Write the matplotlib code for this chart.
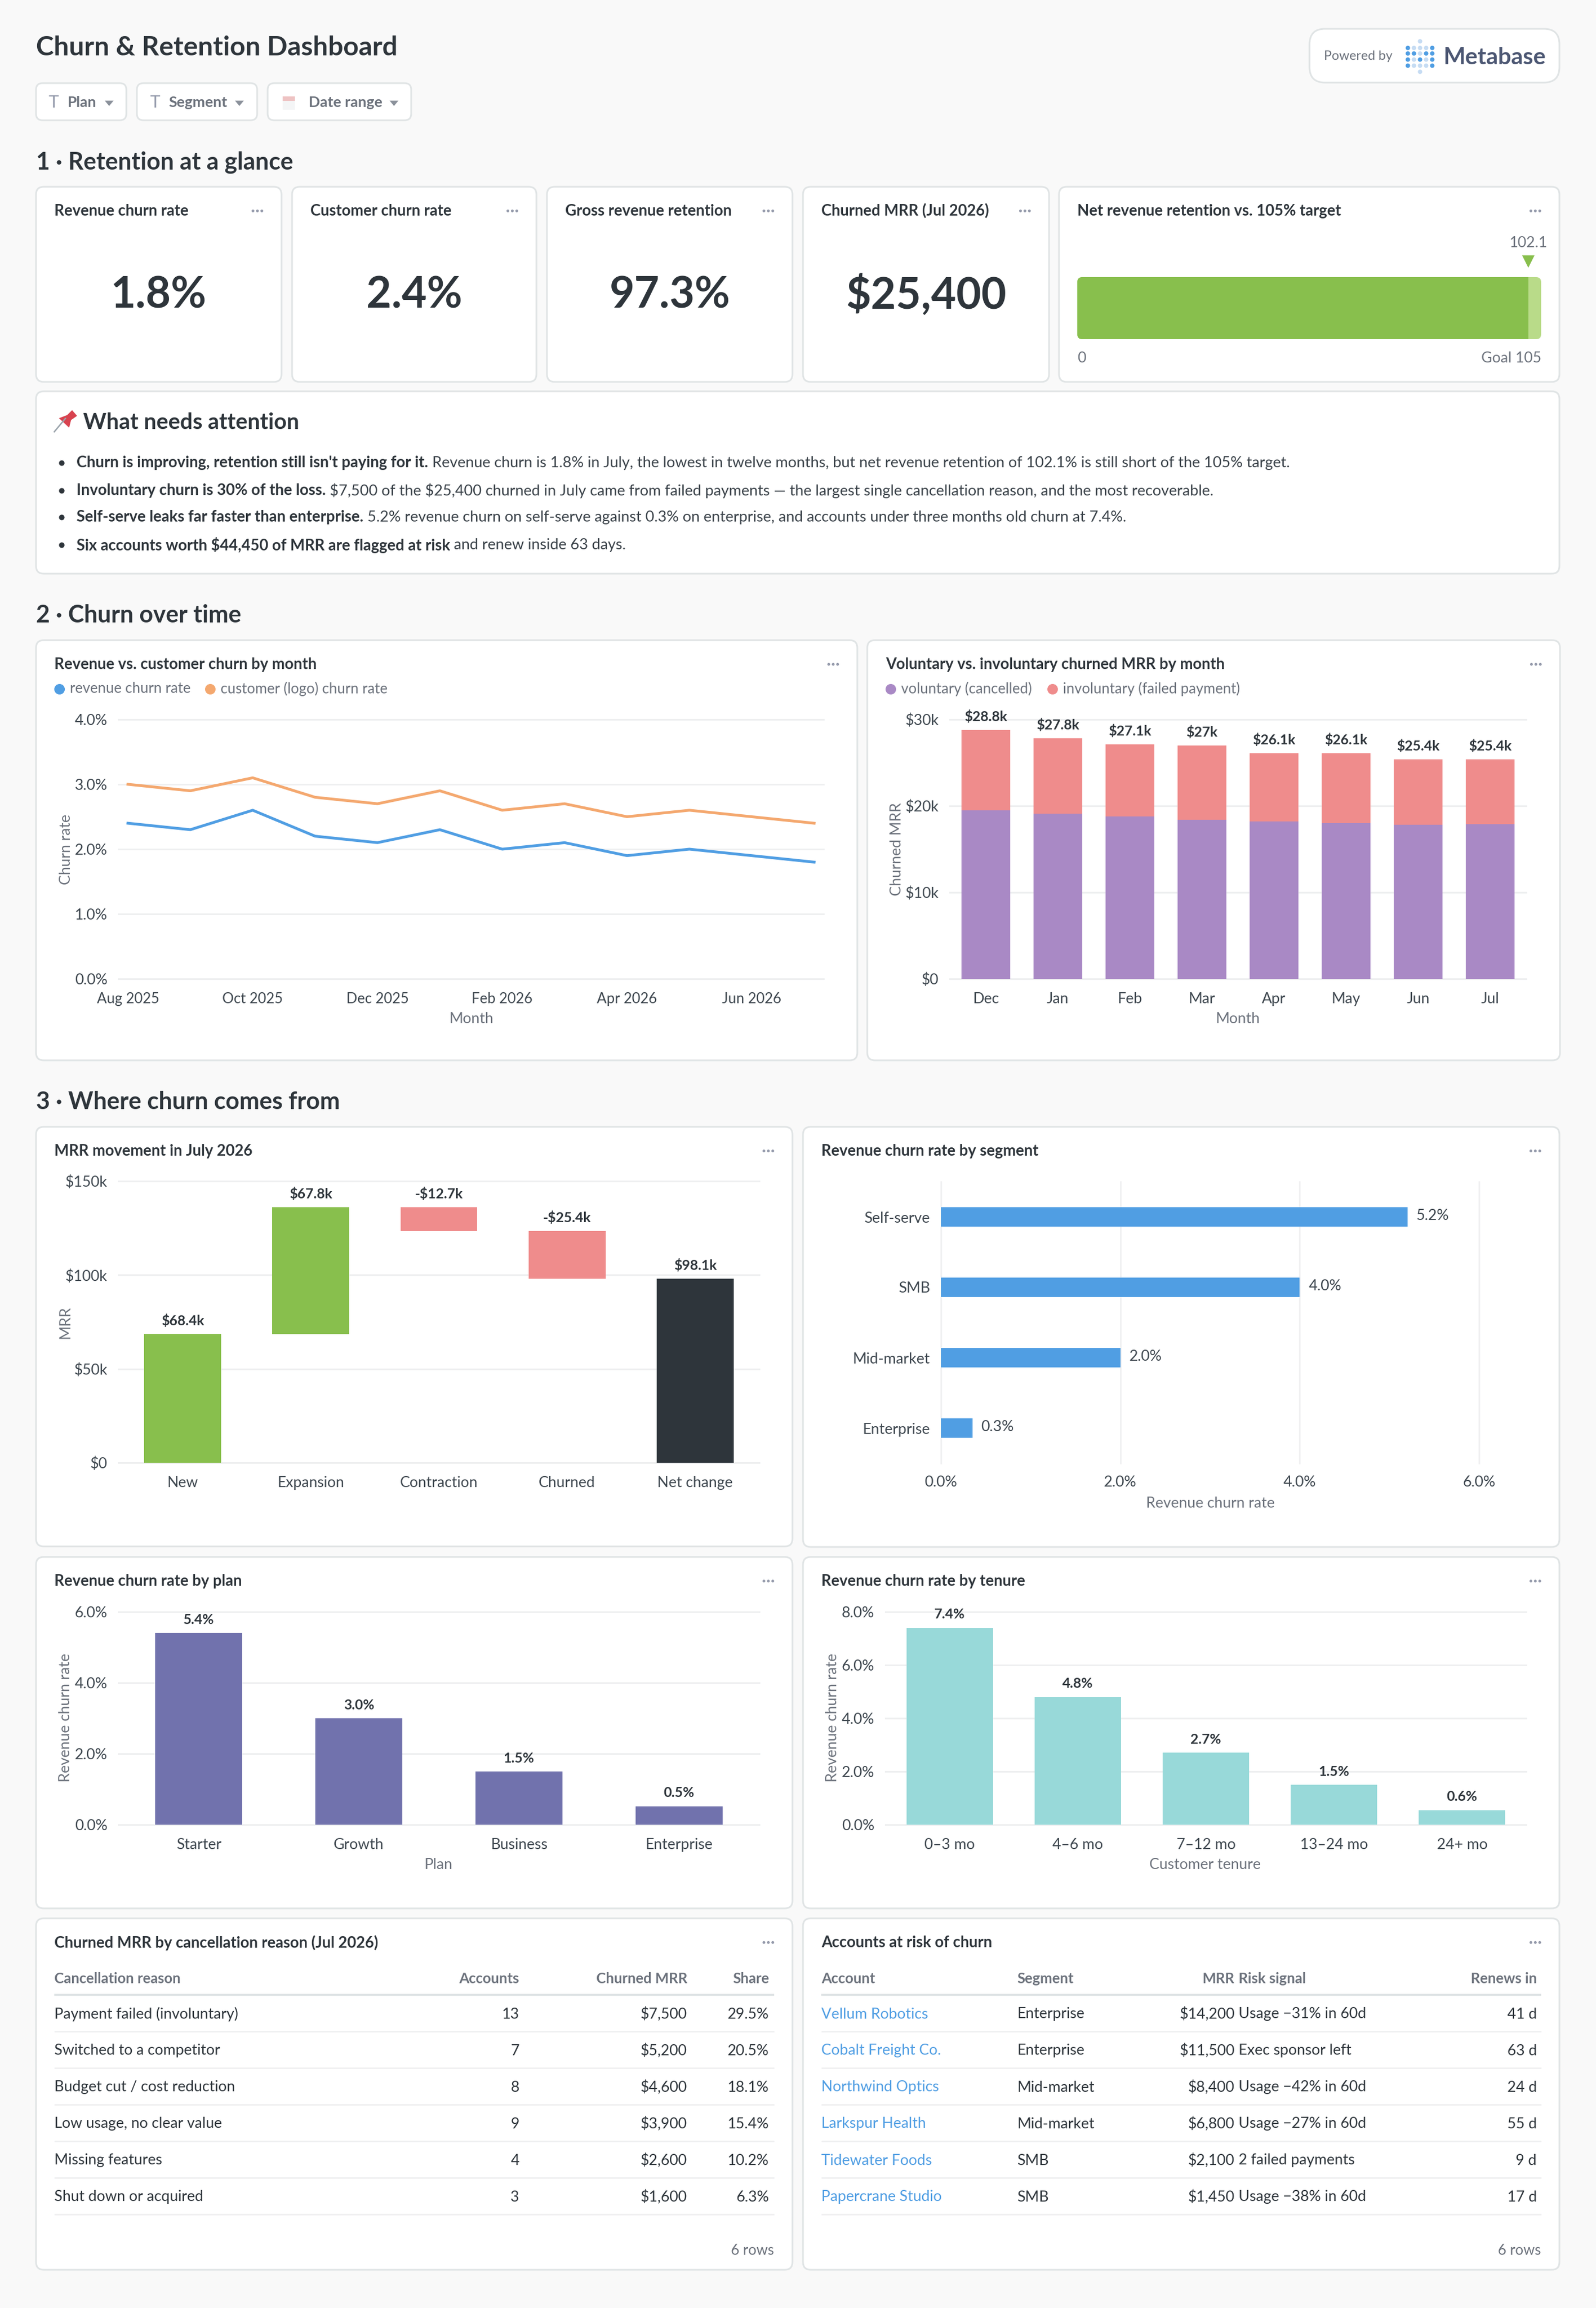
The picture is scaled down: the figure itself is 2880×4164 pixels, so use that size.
# Churn & Retention dashboard, everything laid out in image pixels
import matplotlib
matplotlib.use("Agg")
import matplotlib.pyplot as plt
from matplotlib.patches import FancyBboxPatch, Polygon, Rectangle

W, H = 2880, 4164
DPI = 200

BG = "#f9f9f9"
BORDER = "#e0e4e5"
GRID = "#eeeff0"
DARK = "#2e353b"
TICK = "#3f4850"
GREY = "#6c727c"
DOTS = "#949aab"
BLUE = "#509ee3"
ORANGE = "#f4a86f"
PURPLE = "#a989c5"
PINK = "#ef8c8c"
GREEN = "#88bf4d"
LIGHT_GREEN = "#b9db89"
INDIGO = "#7172ad"
TEAL = "#98d9d9"

kpi_titles = ["Revenue churn rate", "Customer churn rate", "Gross revenue retention", "Churned MRR (Jul 2026)"]
kpi_values = ["1.8%", "2.4%", "97.3%", "$25,400"]

nrr_value = 102.1
nrr_goal = 105

months_long = ["Aug 2025", "Sep 2025", "Oct 2025", "Nov 2025", "Dec 2025", "Jan 2026", "Feb 2026", "Mar 2026",
               "Apr 2026", "May 2026", "Jun 2026", "Jul 2026"]
revenue_churn = [2.4, 2.3, 2.6, 2.2, 2.1, 2.3, 2.0, 2.1, 1.9, 2.0, 1.9, 1.8]
customer_churn = [3.0, 2.9, 3.1, 2.8, 2.7, 2.9, 2.6, 2.7, 2.5, 2.6, 2.5, 2.4]

months_short = ["Dec", "Jan", "Feb", "Mar", "Apr", "May", "Jun", "Jul"]
voluntary = [19.5, 19.1, 18.8, 18.4, 18.2, 18.0, 17.8, 17.9]
involuntary = [9.3, 8.7, 8.3, 8.6, 7.9, 8.1, 7.6, 7.5]
stack_labels = ["$28.8k", "$27.8k", "$27.1k", "$27k", "$26.1k", "$26.1k", "$25.4k", "$25.4k"]

move_names = ["New", "Expansion", "Contraction", "Churned", "Net change"]
move_values = [68.4, 67.8, -12.7, -25.4]
move_net = 98.1
move_labels = ["$68.4k", "$67.8k", "-$12.7k", "-$25.4k", "$98.1k"]

segments = ["Self-serve", "SMB", "Mid-market", "Enterprise"]
segment_churn = [5.2, 4.0, 2.0, 0.35]
segment_labels = ["5.2%", "4.0%", "2.0%", "0.3%"]

plans = ["Starter", "Growth", "Business", "Enterprise"]
plan_churn = [5.4, 3.0, 1.5, 0.52]
plan_labels = ["5.4%", "3.0%", "1.5%", "0.5%"]

tenures = ["0–3 mo", "4–6 mo", "7–12 mo", "13–24 mo", "24+ mo"]
tenure_churn = [7.4, 4.8, 2.7, 1.5, 0.55]
tenure_labels = ["7.4%", "4.8%", "2.7%", "1.5%", "0.6%"]

reason_names = ["Payment failed (involuntary)", "Switched to a competitor", "Budget cut / cost reduction",
                "Low usage, no clear value", "Missing features", "Shut down or acquired"]
reason_accounts = ["13", "7", "8", "9", "4", "3"]
reason_mrr = ["$7,500", "$5,200", "$4,600", "$3,900", "$2,600", "$1,600"]
reason_share = ["29.5%", "20.5%", "18.1%", "15.4%", "10.2%", "6.3%"]

risk_accounts = ["Vellum Robotics", "Cobalt Freight Co.", "Northwind Optics", "Larkspur Health", "Tidewater Foods",
                 "Papercrane Studio"]
risk_segments = ["Enterprise", "Enterprise", "Mid-market", "Mid-market", "SMB", "SMB"]
risk_mrr = ["$14,200", "$11,500", "$8,400", "$6,800", "$2,100", "$1,450"]
risk_signal = ["Usage −31% in 60d", "Exec sponsor left", "Usage −42% in 60d", "Usage −27% in 60d", "2 failed payments",
               "Usage −38% in 60d"]
risk_renews = ["41 d", "63 d", "24 d", "55 d", "9 d", "17 d"]

notes = [
    ("Churn is improving, retention still isn't paying for it.",
     "Revenue churn is 1.8% in July, the lowest in twelve months, but net revenue retention of 102.1% is still short of the 105% target."),
    ("Involuntary churn is 30% of the loss.",
     "$7,500 of the $25,400 churned in July came from failed payments — the largest single cancellation reason, and the most recoverable."),
    ("Self-serve leaks far faster than enterprise.",
     "5.2% revenue churn on self-serve against 0.3% on enterprise, and accounts under three months old churn at 7.4%."),
    ("Six accounts worth $44,450 of MRR are flagged at risk",
     "and renew inside 63 days."),
]

plt.rcParams["font.family"] = ["Lato", "DejaVu Sans"]

fig = plt.figure(figsize=(W / DPI, H / DPI), dpi=DPI, facecolor=BG)
bg = fig.add_axes([0, 0, 1, 1])
bg.set_xlim(0, W)
bg.set_ylim(H, 0)
bg.axis("off")
renderer = fig.canvas.get_renderer()


# image pixels to points
def px(v):
    return v * 72 / DPI


# parse_math off, otherwise two dollar signs in one string turn into math
def put(x, y, s, size=27, color=DARK, weight="normal", ha="left", va="center"):
    return bg.text(x, y, s, fontsize=px(size), color=color, fontweight=weight, ha=ha, va=va, parse_math=False)


def rbox(x0, y0, x1, y1, r=14, face="white", edge=BORDER, lw=3):
    box = FancyBboxPatch((x0 + r, y0 + r), x1 - x0 - 2 * r, y1 - y0 - 2 * r,
                         boxstyle=f"round,pad={r},rounding_size={r}",
                         facecolor=face, edgecolor=edge, linewidth=px(lw))
    bg.add_patch(box)
    return box


def card(x0, y0, x1, y1, title=None):
    rbox(x0, y0, x1, y1)
    if title:
        put(x0 + 33, y0 + 44, title, size=27.8, weight="bold")
        bg.plot([x1 - 52, x1 - 44, x1 - 36], [y0 + 43] * 3, "o", ms=px(5), color=DOTS, mew=0)


def axes_px(x0, y0, x1, y1):
    ax = fig.add_axes([x0 / W, 1 - y1 / H, (x1 - x0) / W, (y1 - y0) / H])
    ax.patch.set_alpha(0)
    for s in ax.spines.values():
        s.set_visible(False)
    ax.tick_params(length=0, labelsize=px(27), labelcolor=TICK, pad=px(24))
    ax.set_axisbelow(True)
    return ax


def ygrid(ax):
    ax.grid(axis="y", color=GRID, lw=px(3))
    for line in ax.get_ygridlines():
        line.set_clip_on(False)


# axis titles are placed by their centre, in image pixels
def x_title(ax, box, s, x, y):
    ax.set_xlabel(s, fontsize=px(27), color=GREY, va="center")
    ax.xaxis.set_label_coords((x - box[0]) / (box[2] - box[0]), (box[3] - y) / (box[3] - box[1]))


def y_title(ax, box, s, x, y):
    ax.set_ylabel(s, fontsize=px(27), color=GREY, va="center")
    ax.yaxis.set_label_coords((x - box[0]) / (box[2] - box[0]), (box[3] - y) / (box[3] - box[1]))


def top_labels(ax, xs, tops, labels):
    for x, top, lab in zip(xs, tops, labels):
        ax.annotate(lab, (x, top), xytext=(0, px(24)), textcoords="offset points", ha="center", va="center",
                    fontsize=px(25), fontweight="bold", color=DARK, annotation_clip=False)


def legend_dot(x, y, color, s):
    bg.plot([x], [y], "o", ms=px(19), color=color, mew=0)
    put(x + 19, y, s, size=26, color=GREY)


# header
put(65, 86, "Churn & Retention Dashboard", size=48.5, weight="bold")

filters = [(65, 228, 97, 122, 197, "Plan"), (247, 464, 280, 304, 432, "Segment"), (483, 742, None, 557, 711, "Date range")]
for x0, x1, icon, tx, caret, lab in filters:
    rbox(x0, 150, x1, 217, r=12)
    put(tx, 185, lab, size=27, color=GREY, weight="bold")
    bg.add_patch(Polygon([(caret - 5, 183), (caret + 5, 183), (caret, 189)], color="#8b919b"))
    if icon:
        put(icon, 185, "T", size=31, color=DOTS, ha="center")
bg.add_patch(Rectangle((510, 174), 22, 24, facecolor="#f4f5f6", edgecolor="none"))
bg.add_patch(Rectangle((510, 174), 22, 8, facecolor="#eec3c3", edgecolor="none"))

# metabase badge
rbox(2363, 52, 2814, 149, r=28)
put(2389, 102, "Powered by", size=23.5, color=GREY)
put(2605, 104, "Metabase", size=42, color="#4c5773", weight="bold")
logo_cols = [2540, 2551, 2562, 2573, 2584]
logo_rows = [86, 96, 107, 118]
logo_dark = [[1, 0, 0, 0, 1], [1, 1, 0, 1, 1], [1, 0, 1, 0, 1], [1, 0, 0, 0, 1]]
for yy, flags in zip(logo_rows, logo_dark):
    for xx, on in zip(logo_cols, flags):
        bg.plot([xx], [yy], "o", ms=px(8), mew=0, color=BLUE if on else "#c6dcf3")
bg.plot([2562, 2562], [74, 129], "o", ms=px(8), mew=0, color="#c6dcf3", ls="none")

# section 1
put(65, 293, "1 · Retention at a glance", size=43.3, weight="bold")
kpi_boxes = [(65, 508), (527, 968), (987, 1430), (1449, 1893)]
for (x0, x1), title, value in zip(kpi_boxes, kpi_titles, kpi_values):
    card(x0, 337, x1, 689, title)
    put((x0 + x1) / 2, 533, value, size=78, weight="bold", ha="center")

card(1911, 337, 2814, 689, "Net revenue retention vs. 105% target")
gauge_box = (1944, 500, 2781, 612)
gauge = axes_px(*gauge_box)
gauge.set_xlim(0, nrr_goal)
gauge.set_ylim(0, 1)
gauge.set_xticks([])
gauge.set_yticks([])
clip = rbox(*gauge_box, r=9, face="none", edge="none", lw=0)
for bar in gauge.barh([0.5], [nrr_goal], height=1, color=LIGHT_GREEN):
    bar.set_clip_path(clip)
for bar in gauge.barh([0.5], [nrr_value], height=1, color=GREEN):
    bar.set_clip_path(clip)
marker_x = gauge_box[0] + (gauge_box[2] - gauge_box[0]) * nrr_value / nrr_goal
bg.add_patch(Polygon([(marker_x - 9, 462), (marker_x + 9, 462), (marker_x, 480)], color=GREEN))
put(marker_x, 438, f"{nrr_value}", size=27, color=GREY, ha="center")
put(1944, 647, "0", size=27, color=GREY)
put(2781, 647, f"Goal {nrr_goal}", size=27, color=GREY, ha="right")

# what needs attention
card(65, 706, 2814, 1035)
bg.plot([98, 118], [779, 755], color="#9aa3ab", lw=px(2.5))
bg.add_patch(Polygon([(109, 755), (124, 769), (127, 757), (137, 750), (130, 742), (122, 750)], color="#d8434f"))
put(150, 763, "What needs attention", size=40, weight="bold")
for y, (strong, rest) in zip([835, 885, 933, 983], notes):
    bg.plot([111], [y], "o", ms=px(10), mew=0, color=DARK)
    t = put(138, y, strong, size=27.9, weight="bold")
    x_end = t.get_window_extent(renderer).x1
    put(x_end + 7, y, rest, size=27.4, color="#3a4249")

# section 2
put(65, 1110, "2 · Churn over time", size=43.3, weight="bold")

card(65, 1155, 1547, 1913, "Revenue vs. customer churn by month")
legend_dot(107, 1243, BLUE, "revenue churn rate")
legend_dot(379, 1243, ORANGE, "customer (logo) churn rate")
box = (214, 1298, 1486, 1766)
ax = axes_px(*box)
ax.plot(range(len(months_long)), revenue_churn, color=BLUE, lw=px(5))
ax.plot(range(len(months_long)), customer_churn, color=ORANGE, lw=px(5))
ax.set_xlim(-0.15, 11.15)
ax.set_ylim(0, 4)
ax.set_yticks([0, 1, 2, 3, 4], ["0.0%", "1.0%", "2.0%", "3.0%", "4.0%"])
ax.set_xticks(range(0, 12, 2), months_long[::2])
ax.tick_params(axis="x", labelsize=px(26))
ax.tick_params(axis="y", pad=px(20))
ygrid(ax)
x_title(ax, box, "Month", 851, 1838)
y_title(ax, box, "Churn rate", 119, 1532)

card(1565, 1155, 2815, 1913, "Voluntary vs. involuntary churned MRR by month")
legend_dot(1607, 1243, PURPLE, "voluntary (cancelled)")
legend_dot(1899, 1243, PINK, "involuntary (failed payment)")
box = (1714, 1298, 2754, 1766)
ax = axes_px(*box)
pos = list(range(len(months_short)))
ax.bar(pos, voluntary, width=0.68, color=PURPLE)
ax.bar(pos, involuntary, width=0.68, bottom=voluntary, color=PINK)
ax.set_xlim(-0.5, 7.5)
ax.set_ylim(0, 30)
ax.set_yticks([0, 10, 20, 30], ["$0", "$10k", "$20k", "$30k"])
ax.set_xticks(pos, months_short)
ax.tick_params(axis="y", pad=px(20))
ygrid(ax)
top_labels(ax, pos, [v + i for v, i in zip(voluntary, involuntary)], stack_labels)
x_title(ax, box, "Month", 2234, 1838)
y_title(ax, box, "Churned MRR", 1619, 1532)

# section 3
put(65, 1988, "3 · Where churn comes from", size=43.3, weight="bold")

card(65, 2033, 1430, 2790, "MRR movement in July 2026")
box = (214, 2131, 1370, 2639)
ax = axes_px(*box)
starts, tops, running = [], [], 0
for v in move_values:
    starts.append(running)
    running += v
    tops.append(max(starts[-1], running))
starts.append(0)
tops.append(move_net)
heights = [abs(v) for v in move_values] + [move_net]
bottoms = [min(s, s + v) for s, v in zip(starts, move_values)] + [0]
move_colors = [GREEN, GREEN, PINK, PINK, DARK]
pos = list(range(len(move_names)))
ax.bar(pos, heights, bottom=bottoms, width=0.6, color=move_colors)
ax.set_xlim(-0.5, 4.5)
ax.set_ylim(0, 150)
ax.set_yticks([0, 50, 100, 150], ["$0", "$50k", "$100k", "$150k"])
ax.set_xticks(pos, move_names)
ax.tick_params(axis="y", pad=px(20))
ygrid(ax)
top_labels(ax, pos, tops, move_labels)
y_title(ax, box, "MRR", 118, 2386)

card(1449, 2033, 2814, 2791, "Revenue churn rate by segment")
box = (1698, 2132, 2669, 2640)
ax = axes_px(*box)
pos = list(range(len(segments)))
ax.barh(pos, segment_churn, height=0.283, color=BLUE)
ax.set_xlim(0, 6)
ax.set_ylim(3.5, -0.5)
ax.set_xticks([0, 2, 4, 6], ["0.0%", "2.0%", "4.0%", "6.0%"])
ax.set_yticks(pos, segments)
ax.tick_params(axis="x", pad=px(22))
ax.tick_params(axis="y", pad=px(20))
ax.grid(axis="x", color=GRID, lw=px(2.5))
for line in ax.get_xgridlines():
    line.set_clip_on(False)
for p, v, lab in zip(pos, segment_churn, segment_labels):
    ax.annotate(lab, (v, p), xytext=(px(16), px(2)), textcoords="offset points", va="center", ha="left",
                fontsize=px(27), color=TICK)
x_title(ax, box, "Revenue churn rate", 2184, 2712)

card(65, 2809, 1430, 3443, "Revenue churn rate by plan")
box = (214, 2908, 1370, 3292)
ax = axes_px(*box)
pos = list(range(len(plans)))
ax.bar(pos, plan_churn, width=0.54, color=INDIGO)
ax.set_xlim(-0.5, 3.5)
ax.set_ylim(0, 6)
ax.set_yticks([0, 2, 4, 6], ["0.0%", "2.0%", "4.0%", "6.0%"])
ax.set_xticks(pos, plans)
ax.tick_params(axis="y", pad=px(20))
ygrid(ax)
top_labels(ax, pos, plan_churn, plan_labels)
x_title(ax, box, "Plan", 791, 3364)
y_title(ax, box, "Revenue churn rate", 119, 3099)

card(1449, 2809, 2814, 3443, "Revenue churn rate by tenure")
box = (1598, 2908, 2754, 3292)
ax = axes_px(*box)
pos = list(range(len(tenures)))
ax.bar(pos, tenure_churn, width=0.675, color=TEAL)
ax.set_xlim(-0.5, 4.5)
ax.set_ylim(0, 8)
ax.set_yticks([0, 2, 4, 6, 8], ["0.0%", "2.0%", "4.0%", "6.0%", "8.0%"])
ax.set_xticks(pos, tenures)
ax.tick_params(axis="y", pad=px(20))
ygrid(ax)
top_labels(ax, pos, tenure_churn, tenure_labels)
x_title(ax, box, "Customer tenure", 2175, 3364)
y_title(ax, box, "Revenue churn rate", 1502, 3099)

# tables
row_y = [3634, 3700, 3766, 3832, 3898, 3964]
rule_y = [3665, 3731, 3797, 3863, 3929, 3995]

card(65, 3461, 1430, 4095, "Churned MRR by cancellation reason (Jul 2026)")
put(98, 3570, "Cancellation reason", size=26, color=GREY, weight="bold")
put(937, 3570, "Accounts", size=26, color=GREY, weight="bold", ha="right")
put(1240, 3570, "Churned MRR", size=26, color=GREY, weight="bold", ha="right")
put(1388, 3570, "Share", size=26, color=GREY, weight="bold", ha="right")
bg.plot([98, 1397], [3599, 3599], color="#dce1e3", lw=px(3.5), solid_capstyle="butt")
for i, y in enumerate(row_y):
    put(98, y, reason_names[i])
    put(937, y, reason_accounts[i], ha="right")
    put(1240, y, reason_mrr[i], ha="right")
    put(1388, y, reason_share[i], ha="right")
    bg.plot([98, 1397], [rule_y[i], rule_y[i]], color=GRID, lw=px(2.5), solid_capstyle="butt")
put(1397, 4060, "6 rows", size=26, color=GREY, ha="right")

card(1449, 3461, 2814, 4095, "Accounts at risk of churn")
put(1482, 3570, "Account", size=26, color=GREY, weight="bold")
put(1835, 3570, "Segment", size=26, color=GREY, weight="bold")
put(2228, 3570, "MRR", size=26, color=GREY, weight="bold", ha="right")
put(2235, 3570, "Risk signal", size=26, color=GREY, weight="bold")
put(2773, 3570, "Renews in", size=26, color=GREY, weight="bold", ha="right")
bg.plot([1482, 2781], [3599, 3599], color="#dce1e3", lw=px(3.5), solid_capstyle="butt")
for i, y in enumerate(row_y):
    put(1482, y, risk_accounts[i], color=BLUE)
    put(1835, y, risk_segments[i])
    put(2228, y, risk_mrr[i], ha="right")
    put(2235, y, risk_signal[i])
    put(2773, y, risk_renews[i], ha="right")
    bg.plot([1482, 2781], [rule_y[i], rule_y[i]], color=GRID, lw=px(2.5), solid_capstyle="butt")
put(2781, 4060, "6 rows", size=26, color=GREY, ha="right")

bg.set_xlim(0, W)
bg.set_ylim(H, 0)
fig.savefig("out.png", dpi=DPI, facecolor=BG)
